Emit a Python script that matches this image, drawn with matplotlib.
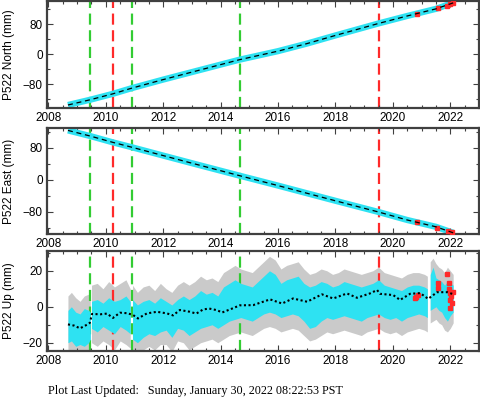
import numpy as np
import matplotlib
matplotlib.use("Agg")
import matplotlib.pyplot as plt
from matplotlib.ticker import MultipleLocator

# ---------------- data ----------------
# North / East model trajectories (mm)
ne_years = [2008.68, 2009.45, 2010.25, 2010.9, 2012.0, 2013.0, 2014.65, 2016.0,
            2017.0, 2018.0, 2019.5, 2020.5, 2021.5, 2022.1]
north = [-136, -122, -106, -91, -68, -48, -15, 8, 28, 50, 82, 102, 121, 137]
east = [124, 110, 94, 82, 61, 42, 11, -14, -33, -52, -80, -100, -117, -132]

north_red_years = [2020.84, 2021.57, 2021.9, 2022.0, 2022.08]
north_red = [107, 123, 129, 134, 136]
east_red_years = [2020.85, 2021.54, 2021.92, 2022.05]
east_red = [-106, -119, -127, -129]

# Up model (dotted black line)
up_model_years = [2008.68, 2008.9, 2009.1, 2009.34, 2009.44, 2009.52, 2009.8, 2010.04,
                  2010.25, 2010.49, 2010.75, 2010.95, 2011.12, 2011.43, 2011.78,
                  2012.13, 2012.34, 2012.58, 2012.93, 2013.15, 2013.39, 2013.6,
                  2013.87, 2014.05, 2014.4, 2014.67, 2015.13, 2015.72, 2016.14,
                  2016.52, 2017.01, 2017.53, 2017.92, 2018.4, 2018.75, 2019.2,
                  2019.45, 2019.55, 2020.01, 2020.25, 2020.6, 2020.95, 2021.23,
                  2021.54, 2021.89, 2022.1]
up_model = [-9.8, -10.5, -12.0, -10.0, -9.0, -4.0, -4.2, -3.8,
            -6.2, -3.3, -3.6, -4.6, -6.5, -3.7, -2.8,
            -3.7, -4.8, -1.8, -2.8, -3.8, -1.5, -1.0,
            -1.9, -3.2, -1.0, 0.8, 0.9, 4.1, 1.8,
            4.6, 2.8, 6.9, 4.6, 7.4, 5.0, 7.4,
            9.3, 7.2, 6.5, 3.8, 7.2, 7.6, 4.4,
            8.1, 8.1, 7.0]

# Up data cloud envelopes (None = data gap)
up_env_years = [2008.68, 2008.8, 2008.95, 2009.1, 2009.25, 2009.4, 2009.46, None,
                2009.5, 2009.7, 2009.9, 2010.1, 2010.3, 2010.5, 2010.7, 2010.85, None,
                2010.93, 2011.1, 2011.3, 2011.5, 2011.7, 2011.9, 2012.1, 2012.3,
                2012.5, 2012.7, 2012.9,
                2013.1, 2013.3, 2013.5, 2013.7, 2013.9, 2014.1, 2014.3, 2014.5,
                2014.7, 2014.9, 2015.1, 2015.3, 2015.5, 2015.7, 2015.9, 2016.1,
                2016.3, 2016.5, 2016.7, 2016.9, 2017.1, 2017.3, 2017.5, 2017.7,
                2017.9, 2018.1, 2018.3, 2018.5, 2018.7, 2018.9, 2019.1, 2019.3,
                2019.5, 2019.7, 2019.9, 2020.1, 2020.3, 2020.5, 2020.7, 2020.9,
                2021.1, 2021.2, None,
                2021.3, 2021.4, 2021.5, 2021.6, 2021.7, 2021.8, 2021.9, 2022.0, 2022.1]
up_cyan_hi = [-2, 0, -3, -4, -1, -2, -3, None,
              3, 4, 2, 5, 3, 4, 6, 3, None,
              4, 1, 3, 4, 2, 5, 3, 1, 4, 6, 4,
              6, 9, 7, 8, 6, 11, 13, 15,
              13, 12, 11, 14, 17, 20, 18, 13,
              15, 16, 17, 13, 11, 12, 14, 13,
              11, 12, 14, 13, 12, 11, 12, 13,
              15, 12, 11, 10, 9, 11, 12, 12,
              11, 10, None,
              18, 22, 16, 15, 14, 12, 14, 13, 12]
up_cyan_lo = [-20, -19, -22, -21, -22, -20, -18, None,
              -12, -14, -11, -13, -15, -11, -13, -15, None,
              -18, -20, -17, -15, -16, -14, -13, -17, -12, -13, -16,
              -14, -12, -11, -10, -12, -10, -8, -7,
              -6, -7, -8, -6, -4, -3, -4, -6,
              -5, -4, -5, -8, -12, -11, -8, -6,
              -7, -6, -5, -6, -7, -8, -6, -5,
              -4, -6, -7, -6, -8, -6, -5, -4,
              -5, -6, None,
              -2, -1, 0, -2, -3, -6, -8, -5, -3]
up_gray_hi = [6, 8, 5, 3, 6, 7, 5, None,
              12, 13, 10, 14, 11, 13, 15, 10, None,
              12, 8, 11, 12, 9, 13, 10, 8, 12, 14, 12,
              14, 17, 15, 16, 14, 19, 21, 23,
              21, 20, 19, 22, 25, 28, 26, 21,
              23, 24, 25, 21, 18, 19, 21, 20,
              18, 19, 21, 20, 19, 18, 19, 20,
              22, 19, 18, 17, 16, 18, 19, 19,
              18, 17, None,
              25, 27, 24, 22, 21, 19, 22, 20, 18]
up_gray_lo = [-26, -27, -29, -28, -30, -28, -25, None,
              -20, -22, -19, -21, -24, -19, -21, -23, None,
              -26, -27, -24, -22, -24, -21, -21, -25, -19, -20, -24,
              -22, -20, -19, -18, -20, -18, -16, -15,
              -14, -15, -16, -14, -12, -11, -12, -14,
              -13, -12, -13, -16, -19, -18, -16, -14,
              -15, -14, -13, -14, -15, -16, -14, -13,
              -12, -14, -15, -14, -16, -14, -13, -12,
              -13, -14, None,
              -9, -8, -7, -9, -10, -13, -14, -12, -9]

up_red_years = [2020.77, 2020.82, 2020.87, 2021.57, 2021.57, 2021.89, 2021.95,
                2021.95, 2021.98, 2021.98, 2022.0, 2022.03, 2022.05, 2022.08]
up_red = [4.6, 5.6, 6.5, 13.0, 10.2, 18.2, 13.0, 10.0, 7.6, 3.9, -0.7, 5.8, 2.0, 8.0]

green_events = [2009.45, 2010.91, 2014.67]
red_events = [2010.25, 2019.52]

xticks = [2008, 2010, 2012, 2014, 2016, 2018, 2020, 2022]
ylabels = ["P522 North (mm)", "P522 East (mm)", "P522 Up (mm)"]
footer = "Plot Last Updated:   Sunday, January 30, 2022 08:22:53 PST"

# ---------------- styling ----------------
CYAN = "#2ee2f2"
GRAY = "#cacaca"
RED = "#ff2a2a"
GREEN = "#33cc33"
SPINE = "#404040"
TFONT = "Liberation Sans"

W, H = 481, 400
fig = plt.figure(figsize=(W / 100, H / 100), dpi=100)


def frac_axes(top, bottom, left=47, right=479):
    return fig.add_axes([left / W, 1 - bottom / H, (right - left) / W, (bottom - top) / H])


ax1 = frac_axes(1, 108)
ax2 = frac_axes(128, 234)
ax3 = frac_axes(251, 351)
axes = [ax1, ax2, ax3]


def style(ax, ylim, ymaj, ymin):
    ax.set_xlim(2007.95, 2023.0)
    ax.set_ylim(*ylim)
    ax.set_xticks(xticks)
    ax.xaxis.set_minor_locator(MultipleLocator(0.5))
    ax.yaxis.set_major_locator(MultipleLocator(ymaj))
    ax.yaxis.set_minor_locator(MultipleLocator(ymin))
    ax.tick_params(which="both", direction="in", top=True, right=True,
                   color=SPINE, labelsize=8.5, pad=3)
    ax.tick_params(which="major", length=4, width=0.8)
    ax.tick_params(which="minor", length=2.5, width=0.8)
    for lab in ax.get_xticklabels() + ax.get_yticklabels():
        lab.set_fontfamily(TFONT)
    for s in ax.spines.values():
        s.set_color(SPINE)
        s.set_linewidth(1.6)


def events(ax):
    for x in green_events:
        ax.axvline(x, color=GREEN, lw=1.6, ls=(0, (5, 2.5)), zorder=1)
    for x in red_events:
        ax.axvline(x, color=RED, lw=1.6, ls=(0, (5, 2.5)), zorder=1)


# North
events(ax1)
ax1.plot(ne_years, north, color=CYAN, lw=4.5, solid_capstyle="butt", zorder=2)
ax1.plot(north_red_years, north_red, "s", color=RED, ms=2.2, zorder=3)
ax1.plot(ne_years, north, color="black", lw=0.9, ls=(0, (4, 3)), zorder=4)
style(ax1, (-144, 142), 80, 40)

# East
events(ax2)
ax2.plot(ne_years, east, color=CYAN, lw=4.5, solid_capstyle="butt", zorder=2)
ax2.plot(east_red_years, east_red, "s", color=RED, ms=2.2, zorder=3)
ax2.plot(ne_years, east, color="black", lw=0.9, ls=(0, (4, 3)), zorder=4)
style(ax2, (-135, 130), 80, 40)

# Up
ey = np.array([np.nan if v is None else v for v in up_env_years], float)
ch = np.array([np.nan if v is None else v for v in up_cyan_hi], float)
cl = np.array([np.nan if v is None else v for v in up_cyan_lo], float)
gh = np.array([np.nan if v is None else v for v in up_gray_hi], float)
gl = np.array([np.nan if v is None else v for v in up_gray_lo], float)
breaks = np.where(np.isnan(ey))[0]
starts = np.concatenate([[0], breaks + 1])
ends = np.concatenate([breaks, [len(ey)]])
for s, e in zip(starts, ends):
    ax3.fill_between(ey[s:e], gl[s:e], gh[s:e], color=GRAY, lw=0, zorder=1)
    ax3.fill_between(ey[s:e], cl[s:e], ch[s:e], color=CYAN, lw=0, zorder=2)
events(ax3)
ax3.plot(up_red_years, up_red, "s", color=RED, ms=2.2, zorder=3)
ax3.plot(up_model_years, up_model, color="black", lw=1.5, ls=(0, (1, 1.2)), zorder=4)
style(ax3, (-24.6, 31), 20, 10)

# y labels
for ax, lab in zip(axes, ylabels):
    pos = ax.get_position()
    fig.text(9 / W, pos.y0 + pos.height / 2, lab, rotation=90, ha="center",
             va="center", fontsize=8.5, family=TFONT)

fig.text(48 / W, 1 - 394 / H, footer, family="Liberation Serif", fontsize=8.7,
         va="baseline", ha="left")

fig.savefig("out.png", dpi=100)
